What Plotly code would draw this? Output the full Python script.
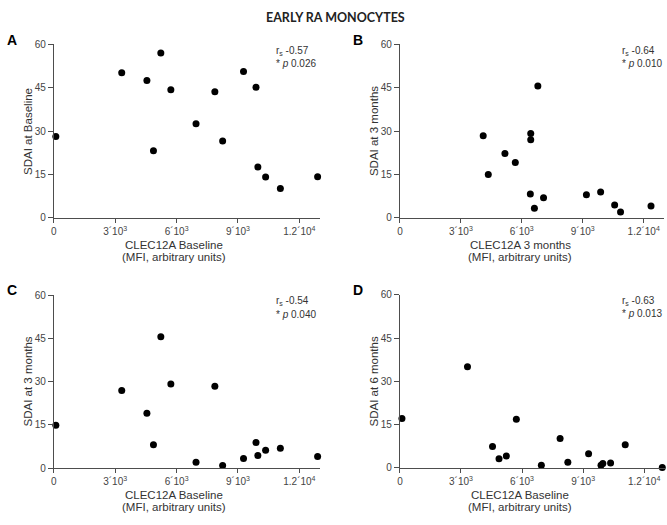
import plotly.graph_objects as go

# ---------------- data ----------------
clec12a_baseline = [100, 3320, 4550, 4870, 5230, 5720, 6950, 7870, 8250, 9270, 9880, 9970, 10350, 11070, 12890]
sdai_baseline = [28.1, 50.2, 47.5, 23.2, 57.0, 44.3, 32.5, 43.6, 26.6, 50.6, 45.2, 17.6, 14.1, 10.1, 14.2]
sdai_3m_vs_baseline = [14.9, 26.9, 19.0, 8.1, 45.6, 29.2, 2.0, 28.4, 0.9, 3.3, 8.9, 4.4, 6.2, 6.9, 4.0]
sdai_6m_vs_baseline = [17.1, 35.1, 7.4, 3.2, 4.1, 16.9, 0.9, 10.2, 2.0, 4.9, 0.9, 1.5, 1.7, 8.0, 0.1]

clec12a_3m = [4100, 4350, 5170, 5680, 6440, 6440, 6790, 6420, 6620, 7070, 9180, 9880, 10570, 10860, 12360]
sdai_3m = [28.4, 15.0, 22.2, 19.1, 29.2, 27.0, 45.6, 8.2, 3.3, 6.9, 8.0, 8.9, 4.4, 2.0, 4.1]

x_tickvals = [0, 3000, 6000, 9000, 12000]
x_ticktext = ["0", "3´10<sup>3</sup>", "6´10<sup>3</sup>", "9´10<sup>3</sup>", "1.2´10<sup>4</sup>"]
y_tickvals = [0, 15, 30, 45, 60]

panel_letters = ["A", "B", "C", "D"]
y_titles = ["SDAI at Baseline", "SDAI at 3 months", "SDAI at 3 months", "SDAI at 6 months"]
x_titles = ["CLEC12A Baseline", "CLEC12A 3 months", "CLEC12A Baseline", "CLEC12A Baseline"]
x_subtitle = "(MFI, arbitrary units)"
r_s = ["-0.57", "-0.64", "-0.54", "-0.63"]
p_vals = ["0.026", "0.010", "0.040", "0.013"]
title = "EARLY RA MONOCYTES"

# ---------------- layout helpers ----------------
W, H = 667, 525
def px(x):
    return x / W
def py(y):
    return 1 - y / H

# plot areas in pixels: (left, right, top, bottom)
areas = [
    (51, 318.3, 39.3, 216.7),
    (398.7, 664, 39.3, 216.7),
    (51, 318.3, 295.9, 472.9),
    (398.7, 664.5, 295.7, 472.7),
]

series = [
    (clec12a_baseline, sdai_baseline),
    (clec12a_3m, sdai_3m),
    (clec12a_baseline, sdai_3m_vs_baseline),
    (clec12a_baseline, sdai_6m_vs_baseline),
]

fig = go.Figure()
TXT = "#333333"
AX = "#4d4d4d"
FONT = "Liberation Sans, Arial, sans-serif"

annotations = []
def note(x, y, text, size, color=TXT, xanchor="left", angle=0, family=FONT):
    annotations.append(dict(x=px(x), y=py(y), xref="paper", yref="paper", text=text,
                            showarrow=False, xanchor=xanchor, yanchor="middle",
                            textangle=angle, font=dict(size=size, color=color, family=family)))

for i, ((xs, ys), (l, r, t, b)) in enumerate(zip(series, areas)):
    n = "" if i == 0 else str(i + 1)
    fig.add_trace(go.Scatter(
        x=xs, y=ys, mode="markers",
        marker=dict(color="black", size=7, line=dict(width=0)),
        xaxis="x" + n, yaxis="y" + n, cliponaxis=False, showlegend=False,
        hoverinfo="skip",
    ))
    fig.layout["xaxis" + n] = dict(
        domain=[px(l), px(r)], anchor="y" + n, range=[0, 13000],
        tickvals=x_tickvals, ticktext=x_ticktext, ticks="outside", ticklen=4,
        tickcolor=AX, showline=True, linecolor=AX, linewidth=1,
        showgrid=False, zeroline=False, tickfont=dict(size=10, color="#444", family=FONT),
    )
    fig.layout["yaxis" + n] = dict(
        domain=[py(b), py(t)], anchor="x" + n, range=[0, 60],
        tickvals=y_tickvals, ticks="outside", ticklen=5,
        tickcolor=AX, showline=True, linecolor=AX, linewidth=1,
        showgrid=False, zeroline=False, tickfont=dict(size=10, color="#444", family=FONT),
    )
    note(l - 49, t - 5, "<b>%s</b>" % panel_letters[i], 14, color="black")
    note(l - 26, (t + b) / 2, y_titles[i], 11.5, xanchor="center", angle=-90)
    note(l + 121, b + 27.5, x_titles[i], 11.5, xanchor="center")
    note(l + 121, b + 40, x_subtitle, 11.5, xanchor="center")
    note(l + 221, t + 6.5, "r<sub>s</sub> %s" % r_s[i], 10)
    note(l + 221, t + 19.5, "* <i>p</i> %s" % p_vals[i], 10)

note(W / 2, 12, "<b>%s</b>" % title, 12.5, color="#222", xanchor="center",
     family="Lato, Liberation Sans, sans-serif")

fig.update_layout(
    width=W, height=H, autosize=False,
    margin=dict(l=0, r=0, t=0, b=0),
    paper_bgcolor="white", plot_bgcolor="white",
    annotations=annotations, showlegend=False,
)

fig.write_html("out.html", config={"displayModeBar": False},
               post_script="document.body.style.margin='0';document.body.style.overflow='hidden';")
